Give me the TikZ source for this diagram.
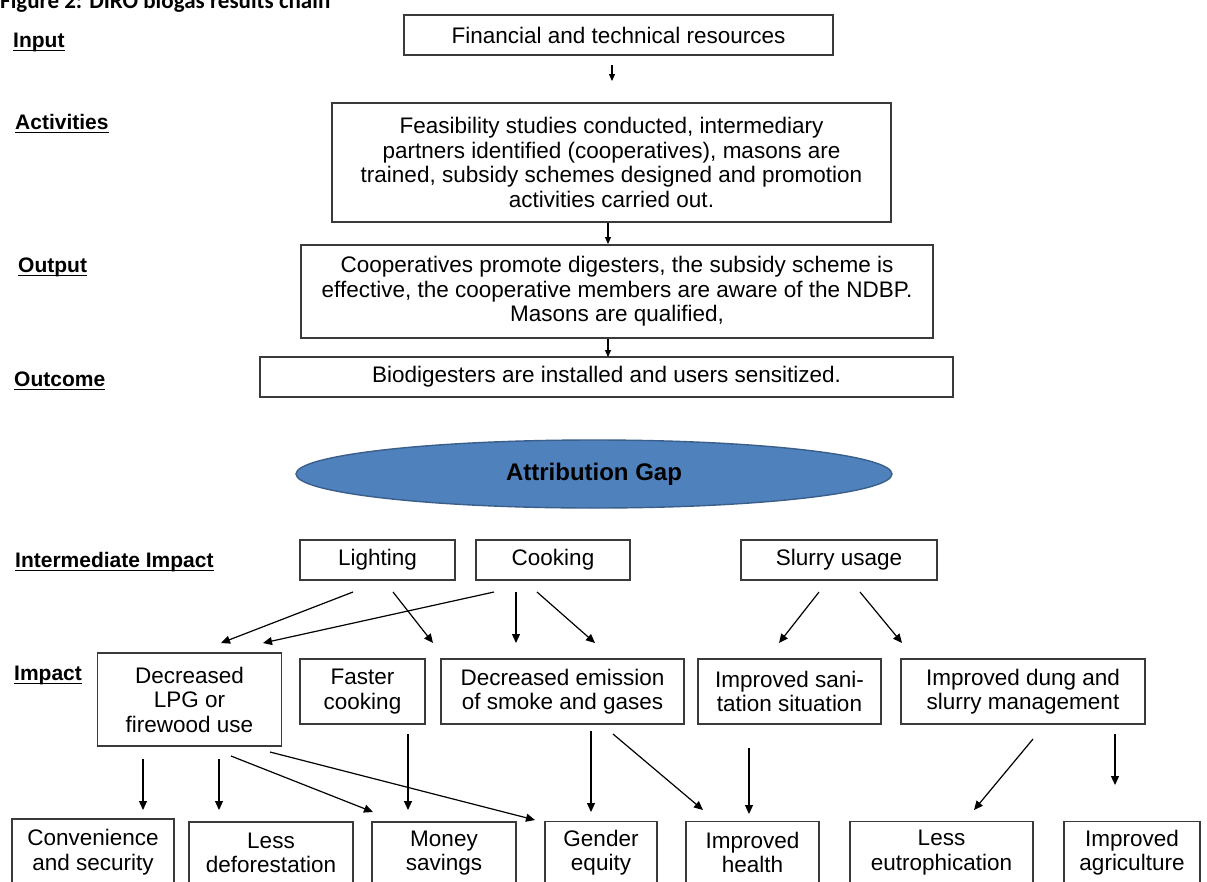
\documentclass[tikz,border=0pt]{standalone}
\usepackage{fontspec}
\setmainfont{Liberation Sans}
\newfontfamily\titlefont{Carlito}
\usetikzlibrary{arrows.meta,shapes.geometric}
\definecolor{gapfill}{HTML}{4F81BD}
\definecolor{gapdraw}{HTML}{3A5F8B}
\definecolor{boxline}{HTML}{3A3A3A}
\begin{document}
\begin{tikzpicture}[x=1pt,y=-1pt,
  box/.style={draw=boxline,line width=1.3pt,rectangle,inner sep=0pt,align=center,
    font=\fontsize{22.5}{24.5}\selectfont},
  lab/.style={anchor=base west,inner sep=0pt,font=\fontsize{21}{24}\selectfont\bfseries},
  uline/.style={line width=1.4pt},
  arr/.style={line width=1.2pt,-{Triangle[length=9pt,width=8pt]}},
  sarr/.style={line width=1.1pt,-{Triangle[length=7pt,width=6pt]}}]
\useasboundingbox (0,0) rectangle (1207,881);
\fill[white] (0,0) rectangle (1207,881);
% title (cut off at the top as in the original)
\node[anchor=base west,inner sep=0pt,font=\titlefont\fontsize{23}{26}\selectfont\bfseries] (title) at (0,8) {Figure 2: DIRO biogas results chain};
% level labels
\node[lab] (lin) at (13,47) {Input};
\node[lab] (lact) at (15,129) {Activities};
\node[lab] (lout) at (18,272) {Output};
\node[lab] (loutc) at (14,386) {Outcome};
\node[lab] (lint) at (15,567) {Intermediate Impact};
\node[lab] (limp) at (14,680) {Impact};
\foreach \n in {lin,lact,lout,loutc,lint,limp}
  \draw[uline] ([yshift=-3.5pt]\n.base west) -- ([yshift=-3.5pt]\n.base east);
% results chain
\node[box,minimum width=429pt,minimum height=40pt] (in) at (618.5,35) {Financial and technical resources};
\node[box,minimum width=559pt,minimum height=119pt] (act) at (611.5,162.5) {Feasibility studies conducted, intermediary\\partners identified (cooperatives), masons are\\trained, subsidy schemes designed and promotion\\activities carried out.};
\node[box,minimum width=632pt,minimum height=93pt] (out) at (617,291.5) {Cooperatives promote digesters, the subsidy scheme is\\effective, the cooperative members are aware of the NDBP.\\Masons are qualified,};
\node[box,minimum width=693pt,minimum height=40pt] (outc) at (606.5,377) {Biodigesters are installed and users sensitized.};
\node[ellipse,draw=gapdraw,line width=1.4pt,fill=gapfill,minimum width=596pt,minimum height=68pt,inner sep=0pt,
  font=\fontsize{24}{26}\selectfont\bfseries] (gap) at (594,474) {Attribution Gap};
% intermediate impact
\node[box,minimum width=155pt,minimum height=40pt] (light) at (377.5,560) {Lighting};
\node[box,minimum width=154pt,minimum height=40pt] (cook) at (553,560) {Cooking};
\node[box,minimum width=196pt,minimum height=40pt] (slurry) at (839,560) {Slurry usage};
% impact
\node[box,minimum width=184pt,minimum height=93pt] (lpg) at (189.5,699.5) {Decreased\\LPG or\\firewood use};
\node[box,minimum width=125pt,minimum height=65pt] (fast) at (362.5,691.5) {Faster\\cooking};
\node[box,minimum width=243pt,minimum height=65pt] (emis) at (562.5,691.5) {Decreased emission\\of smoke and gases};
\node[box,minimum width=183pt,minimum height=65pt] (sani) at (789.5,691.5) {Improved sani-\\tation situation};
\node[box,minimum width=244pt,minimum height=65pt] (dung) at (1023,691.5) {Improved dung and\\slurry management};
% final impacts (cut off at the bottom)
\node[box,minimum width=162pt,minimum height=66pt] (conv) at (93,852) {Convenience\\and security};
\node[box,minimum width=164pt,minimum height=62pt] (less) at (271,853) {Less\\deforestation};
\node[box,minimum width=144pt,minimum height=62pt] (money) at (444,853) {Money\\savings};
\node[box,minimum width=112pt,minimum height=62pt] (gender) at (601,852.5) {Gender\\equity};
\node[box,minimum width=133pt,minimum height=62pt] (health) at (752.5,852.5) {Improved\\health};
\node[box,minimum width=183pt,minimum height=62pt] (eutro) at (941.5,852.5) {Less\\eutrophication};
\node[box,minimum width=136pt,minimum height=62pt] (agri) at (1132,852.5) {Improved\\agriculture};
% connector end points
\coordinate (t1s) at (612,65);  \coordinate (t1e) at (612,81);
\coordinate (t2s) at (608,223); \coordinate (t2e) at (608,244);
\coordinate (t3s) at (608,339); \coordinate (t3e) at (608,357);
\draw[sarr] (t1s) -- (t1e);
\draw[sarr] (t2s) -- (t2e);
\draw[sarr] (t3s) -- (t3e);
\coordinate (a1s) at (353,592);  \coordinate (a1e) at (221,643);
\coordinate (a2s) at (494,592);  \coordinate (a2e) at (263,643);
\coordinate (a3s) at (393,592);  \coordinate (a3e) at (433,643);
\coordinate (a4s) at (516,592);  \coordinate (a4e) at (516,643);
\coordinate (a5s) at (537,592);  \coordinate (a5e) at (595,643);
\coordinate (a6s) at (819,592);  \coordinate (a6e) at (779,643);
\coordinate (a7s) at (860,592);  \coordinate (a7e) at (902,643);
\coordinate (b1s) at (143,759);  \coordinate (b1e) at (143,810);
\coordinate (b2s) at (219,759);  \coordinate (b2e) at (219,810);
\coordinate (b3s) at (231,756);  \coordinate (b3e) at (373,812);
\coordinate (b4s) at (270,752);  \coordinate (b4e) at (535,820);
\coordinate (b5s) at (408,734);  \coordinate (b5e) at (408,810);
\coordinate (b6s) at (591,731);  \coordinate (b6e) at (591,812);
\coordinate (b7s) at (613,734);  \coordinate (b7e) at (703,810);
\coordinate (b8s) at (749,748);  \coordinate (b8e) at (749,814);
\coordinate (b9s) at (1033,739); \coordinate (b9e) at (974,810);
\coordinate (b10s) at (1115,734); \coordinate (b10e) at (1115,785);
\foreach \c in {a1,a2,a3,a4,a5,a6,a7,b1,b2,b3,b4,b5,b6,b7,b8,b9,b10}
  \draw[arr] (\c s) -- (\c e);
\end{tikzpicture}
\end{document}
